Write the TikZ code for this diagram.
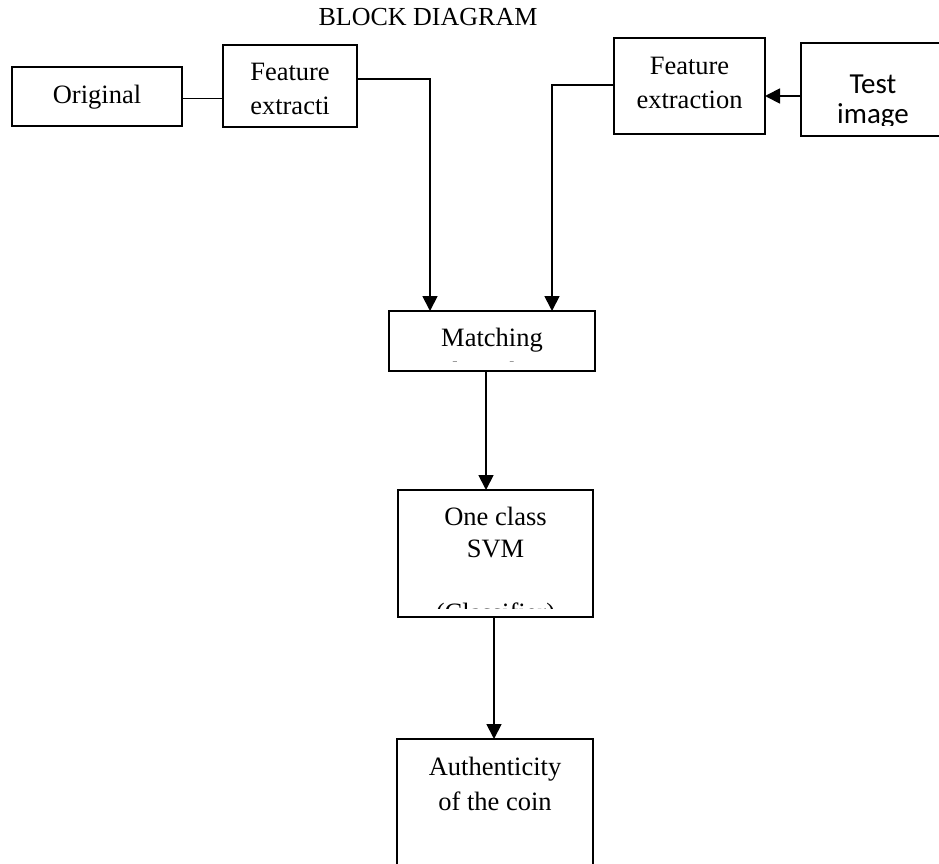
\documentclass[tikz,border=0pt]{standalone}
\usepackage{fontspec}
\setmainfont{Liberation Serif}
\newfontfamily\calfont{Carlito}
\usetikzlibrary{arrows.meta}
\begin{document}
\begin{tikzpicture}[x=1pt,y=-1pt,
  box/.style={draw, line width=1.8pt, inner sep=0pt, outer sep=0pt, rectangle},
  lbl/.style={anchor=base, inner sep=0pt, font=\fontsize{26.5}{30}\selectfont},
  slbl/.style={anchor=base, inner sep=0pt, font=\calfont\fontsize{29}{32}\selectfont},
  conn/.style={line width=1.8pt},
  arr/.style={conn, -{Triangle[width=15pt,length=15pt]}}]
\useasboundingbox (0,0) rectangle (939,863);
\fill[white] (0,0) rectangle (939,863);

% title
\node[lbl, font=\fontsize{26}{28}\selectfont] (title) at (428,25) {BLOCK DIAGRAM};

% boxes
\node[box, minimum width=170pt, minimum height=59pt] (orig) at (97,96.5) {};
\node[box, minimum width=134pt, minimum height=82pt] (fe1) at (290,86) {};
\node[box, minimum width=151pt, minimum height=96pt] (fe2) at (689.5,86) {};
\node[box, minimum width=159pt, minimum height=93pt] (test) at (880.5,89.5) {};
\node[box, minimum width=206pt, minimum height=60pt] (match) at (492,341) {};
\node[box, minimum width=195pt, minimum height=127pt] (svm) at (495.5,553.5) {};
\node[box, minimum width=196pt, minimum height=161pt] (auth) at (495,819.5) {};

% texts
\node[lbl] (torig) at (97,103) {Original};
\node[lbl] (tfe1a) at (290,80.5) {Feature};
\node[lbl] (tfe1b) at (290,114) {extracti};
\node[lbl] (tfe2a) at (689.5,74) {Feature};
\node[lbl] (tfe2b) at (689.5,108) {extraction};
\begin{scope}
  \clip (801,43) rectangle (939,125);
  \node[slbl] (ttesta) at (873,93) {Test};
  \node[slbl] (ttestb) at (873,123) {image};
\end{scope}
\begin{scope}
  \clip (389,311) rectangle (595,361);
  \node[lbl] (tmatcha) at (492,346) {Matching};
  \node[lbl] (tmatchb) at (492,380) {algorithm};
\end{scope}
\begin{scope}
  \clip (398,490) rectangle (593,608);
  \node[lbl] (tsvma) at (495.5,525) {One class};
  \node[lbl] (tsvmb) at (495.5,557) {SVM};
  \node[lbl] (tsvmc) at (495.5,621) {(Classifier)};
\end{scope}
\node[lbl] (tautha) at (495,775) {Authenticity};
\node[lbl] (tauthb) at (495,810) {of the coin};

% connectors
\coordinate (j1) at (430,79);
\coordinate (j2) at (552,85);
\coordinate (ty) at (0,96);
\coordinate (oy) at (0,98.5);
\coordinate (m1) at (486,0);
\coordinate (m2) at (494,0);
\draw[conn] (orig.east |- oy) -- (fe1.west |- oy);
\draw[arr] (fe1.east |- j1) -- (j1) -- (j1 |- match.north);
\draw[arr] (fe2.west |- j2) -- (j2) -- (j2 |- match.north);
\draw[arr] (test.west |- ty) -- (fe2.east |- ty);
\draw[arr] (match.south -| m1) -- (svm.north -| m1);
\draw[arr] (svm.south -| m2) -- (auth.north -| m2);
\end{tikzpicture}
\end{document}
